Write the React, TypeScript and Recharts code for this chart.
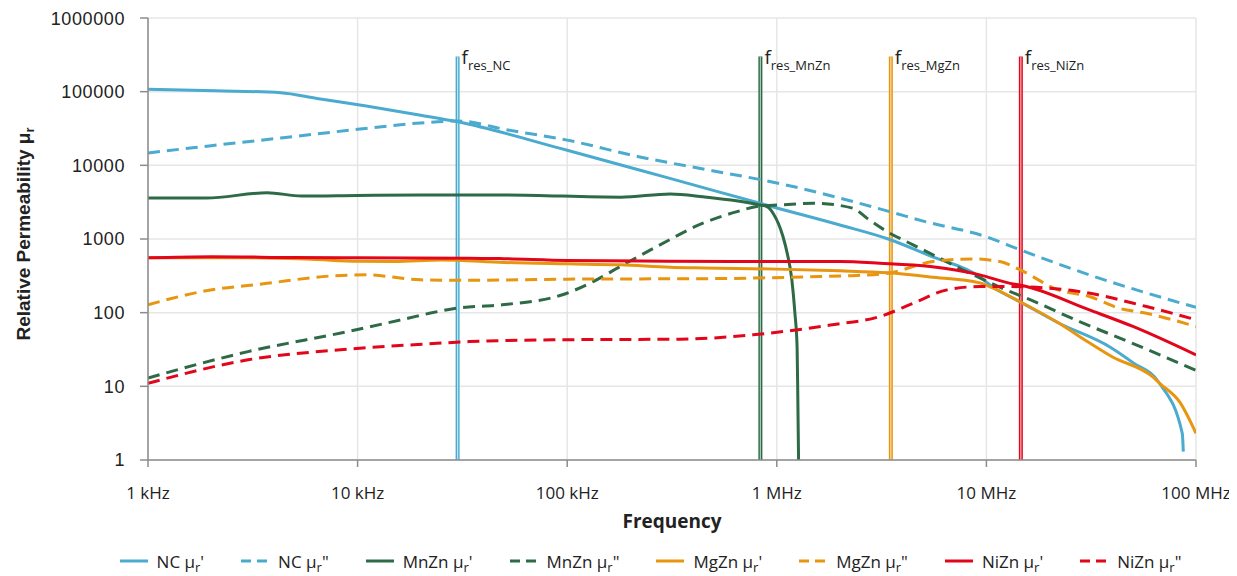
import React from 'react'
import { LineChart, Line, XAxis, YAxis, CartesianGrid, ReferenceLine, Legend } from 'recharts'

// [frequency Hz, permeability]
const ncReal: [number, number][] = [
  [1e3, 108000], [2.1e3, 103000], [4.3e3, 97000], [6.4e3, 81000], [11e3, 64000], [20e3, 48000],
  [30e3, 39000], [100e3, 16000], [300e3, 6800], [1e6, 2640], [2e6, 1550], [3.4e6, 1000],
  [5.4e6, 590], [9.3e6, 306], [10.7e6, 224], [14.5e6, 140], [22e6, 73], [39e6, 34],
  [50e6, 21], [67e6, 11], [86e6, 2.3], [87e6, 1.3],
]
const ncImag: [number, number][] = [
  [1e3, 14700], [2e3, 18500], [4.3e3, 23500], [10e3, 30800], [20e3, 37600], [30e3, 40000],
  [52e3, 30200], [100e3, 22000], [222e3, 13000], [500e3, 8400], [1e6, 5770], [3.5e6, 2330],
  [5e6, 1750], [10e6, 1070], [14.5e6, 711], [31e6, 326], [100e6, 118],
]
const mnznReal: [number, number][] = [
  [1e3, 3600], [1.9e3, 3600], [3.7e3, 4250], [5.4e3, 3830], [10e3, 3900], [20e3, 3960],
  [50e3, 3960], [180e3, 3690], [310e3, 4090], [444e3, 3750], [831e3, 2900], [898e3, 2750],
  [960e3, 2240], [1.07e6, 1080], [1.12e6, 648], [1.18e6, 279], [1.22e6, 99], [1.25e6, 34],
  [1.26e6, 6.6], [1.27e6, 1],
]
const mnznImag: [number, number][] = [
  [1e3, 13], [3e3, 29.6], [9e3, 55.5], [17.4e3, 84], [22e3, 98], [29.7e3, 115], [49e3, 128],
  [95e3, 175], [133e3, 264], [179e3, 423], [277e3, 832], [444e3, 1640], [646e3, 2350],
  [831e3, 2810], [1.04e6, 2900], [1.49e6, 3060], [2.31e6, 2620], [2.69e6, 1920], [3.36e6, 1260],
  [4.47e6, 832], [6e6, 548], [7.7e6, 381], [9.3e6, 297], [13e6, 193], [15e6, 164], [28e6, 75],
  [48e6, 40], [100e6, 16.5],
]
const mgznReal: [number, number][] = [
  [1e3, 555], [3e3, 555], [6e3, 530], [10e3, 500], [15e3, 495], [25e3, 520], [50e3, 480],
  [100e3, 460], [180e3, 446], [310e3, 414], [450e3, 405], [1e6, 390], [2e6, 370], [3.4e6, 347],
  [5.4e6, 306], [9.3e6, 254], [10.7e6, 217], [14.5e6, 140], [22e6, 73], [31e6, 39], [40e6, 25],
  [62e6, 13.5], [67e6, 11], [84e6, 6], [100e6, 2.3],
]
const mgznImag: [number, number][] = [
  [1e3, 128], [1.8e3, 193], [3.7e3, 250], [7.6e3, 316], [11e3, 326], [20e3, 279], [34e3, 275],
  [100e3, 285], [500e3, 290], [1.6e6, 309], [2.16e6, 316], [3.4e6, 344], [5.56e6, 494],
  [8.6e6, 537], [11.6e6, 494], [14.5e6, 381], [22e6, 204], [31e6, 166], [43e6, 115],
  [58e6, 98], [100e6, 65],
]
const niznReal: [number, number][] = [
  [1e3, 555], [2e3, 575], [5e3, 560], [10e3, 555], [34e3, 550], [50e3, 540], [100e3, 510],
  [300e3, 500], [1e6, 494], [2e6, 494], [3.1e6, 470], [5.4e6, 423], [9.3e6, 326], [13e6, 250],
  [15e6, 232], [31e6, 109], [50e6, 65], [100e6, 26.7],
]
const niznImag: [number, number][] = [
  [1e3, 11], [3e3, 22.9], [9e3, 32], [22e3, 37.8], [34e3, 40.5], [85e3, 42.8], [345e3, 43.7],
  [771e3, 50], [1.8e6, 68], [3.1e6, 88.5], [4.47e6, 134], [6.5e6, 204], [9.3e6, 226],
  [13e6, 226], [28e6, 193], [58e6, 121], [100e6, 80],
]

const resFreqs = [30e3, 0.835e6, 3.5e6, 14.6e6]
const resNames = ['NC', 'MnZn', 'MgZn', 'NiZn']
const resTop = 3e5

const xTicks = [1e3, 1e4, 1e5, 1e6, 1e7, 1e8]
const xTickLabels = ['1 kHz', '10 kHz', '100 kHz', '1 MHz', '10 MHz', '100 MHz']
const yTicks = [1, 10, 100, 1000, 10000, 100000, 1000000]

const COLORS: Record<string, string> = {
  NC: '#4AABCF',
  MnZn: '#2D6A45',
  MgZn: '#E8950F',
  NiZn: '#E3061B',
}
const LIGHT: Record<string, string> = {
  NC: '#bfe3f0',
  MnZn: '#a9c9b5',
  MgZn: '#f7d9a6',
  NiZn: '#f7b3ba',
}

const toRows = (pts: [number, number][]) => pts.map(([f, v]) => ({ f, v }))

const series = [
  { id: 'ncR', mat: 'NC', prime: "'", dashed: false, pts: ncReal },
  { id: 'ncI', mat: 'NC', prime: '"', dashed: true, pts: ncImag },
  { id: 'mnR', mat: 'MnZn', prime: "'", dashed: false, pts: mnznReal },
  { id: 'mnI', mat: 'MnZn', prime: '"', dashed: true, pts: mnznImag },
  { id: 'mgR', mat: 'MgZn', prime: "'", dashed: false, pts: mgznReal },
  { id: 'mgI', mat: 'MgZn', prime: '"', dashed: true, pts: mgznImag },
  { id: 'niR', mat: 'NiZn', prime: "'", dashed: false, pts: niznReal },
  { id: 'niI', mat: 'NiZn', prime: '"', dashed: true, pts: niznImag },
]

const DASH = '12 7'
const SANS = '"Open Sans", "Noto Sans", sans-serif'
const ARIAL = '"Liberation Sans", Arial, sans-serif'

function LegendBox() {
  return (
    <div style={{ display: 'flex', justifyContent: 'center', alignItems: 'center', gap: 37, height: 30, paddingLeft: 97, fontFamily: SANS, fontSize: 17, color: '#222' }}>
      {series.map((s) => (
        <div key={s.id} style={{ display: 'flex', alignItems: 'center' }}>
          <svg width={28} height={10}>
            <line x1={0} y1={5} x2={28} y2={5} stroke={COLORS[s.mat]} strokeWidth={3}
              strokeDasharray={s.dashed ? '10 6' : undefined} />
          </svg>
          <span style={{ marginLeft: 9, whiteSpace: 'nowrap' }}>
            {s.mat} μ<span style={{ fontSize: 13, position: 'relative', top: 4 }}>r</span>{s.prime}
          </span>
        </div>
      ))}
    </div>
  )
}

function ResLabel(props: any) {
  const { viewBox, name } = props
  if (!viewBox) return null
  return (
    <text x={viewBox.x + 4} y={viewBox.y + 7} fontFamily={SANS} fontSize={19} fill="#222">
      f<tspan fontSize={13} dy={6}>{'res_' + name}</tspan>
    </text>
  )
}

export default function App() {
  return (
    <div style={{ fontFamily: SANS }}>
      <LineChart width={1229} height={568} margin={{ top: 10, right: 41, left: 0, bottom: 0 }}>
        <CartesianGrid stroke="#e6e6e6" strokeWidth={1.5} />
        <XAxis
          dataKey="f" type="number" scale="log" domain={[1e3, 1e8]} ticks={xTicks}
          allowDataOverflow height={86}
          tickFormatter={(v: number) => xTickLabels[xTicks.indexOf(v)] ?? ''}
          tick={{ fontFamily: SANS, fontSize: 17, fill: '#222' }}
          tickSize={7} tickMargin={20}
          axisLine={{ stroke: '#8c8c8c', strokeWidth: 1.5 }}
          tickLine={{ stroke: '#8c8c8c', strokeWidth: 1.5 }}
          label={(p: any) => {
            const vb = p.viewBox
            return (
              <text x={vb.x + vb.width / 2} y={vb.y + 68} textAnchor="middle"
                fontFamily={SANS} fontSize={19} fontWeight="bold" fill="#222">Frequency</text>
            )
          }}
        />
        <YAxis
          type="number" scale="log" domain={[1, 1e6]} ticks={yTicks} allowDataOverflow
          width={140}
          tick={{ fontFamily: ARIAL, fontSize: 18, fill: '#222', letterSpacing: 0.6 }}
          tickSize={8} tickMargin={15}
          axisLine={{ stroke: '#8c8c8c', strokeWidth: 1.5 }}
          tickLine={{ stroke: '#8c8c8c', strokeWidth: 1.5 }}
          label={() => (
            <text x={22} y={226} transform="rotate(-90 22 226)" textAnchor="middle"
              fontFamily={ARIAL} fontSize={19} fontWeight="bold" fill="#222">
              Relative Permeability μ<tspan fontSize={13} dy={4}>r</tspan>
            </text>
          )}
        />
        {resFreqs.map((f, i) => (
          <ReferenceLine key={'a' + i} segment={[{ x: f, y: 1 }, { x: f, y: resTop }]}
            stroke={COLORS[resNames[i]]} strokeWidth={4}
            label={<ResLabel name={resNames[i]} />} />
        ))}
        {resFreqs.map((f, i) => (
          <ReferenceLine key={'b' + i} segment={[{ x: f, y: 1 }, { x: f, y: resTop }]}
            stroke={LIGHT[resNames[i]]} strokeWidth={1.2} />
        ))}
        {series.map((s) => (
          <Line key={s.id} data={toRows(s.pts)} dataKey="v" type="monotone"
            stroke={COLORS[s.mat]} strokeWidth={3} dot={false} activeDot={false}
            strokeDasharray={s.dashed ? DASH : undefined} isAnimationActive={false} />
        ))}
        <Legend verticalAlign="bottom" content={() => <LegendBox />} />
      </LineChart>
    </div>
  )
}
